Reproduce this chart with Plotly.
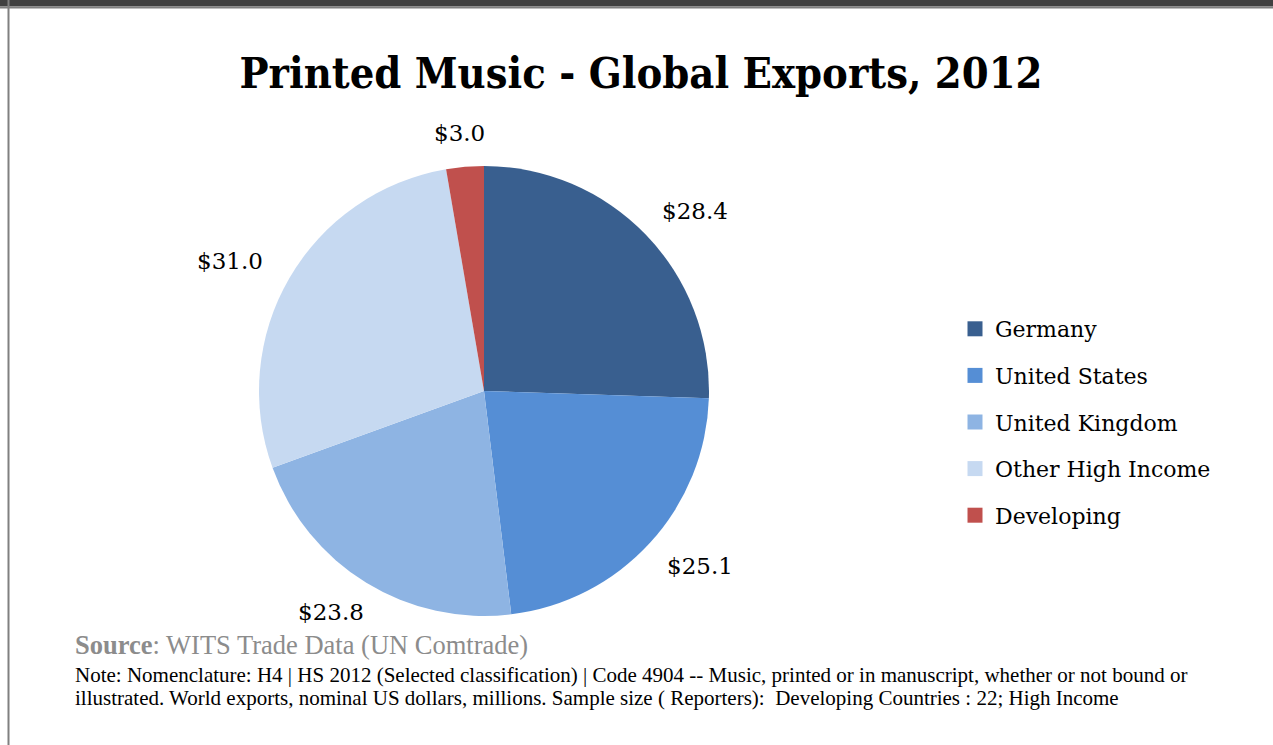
import math
import plotly.graph_objects as go

categories = ["Germany", "United States", "United Kingdom", "Other High Income", "Developing"]
values = [28.4, 25.1, 23.8, 31.0, 3.0]
colors = ["#395F8F", "#558ED5", "#8EB4E3", "#C6D9F1", "#C0504D"]
value_labels = ["$28.4", "$25.1", "$23.8", "$31.0", "$3.0"]

W, H = 1273, 745
CX, CY, R = 484, 391, 225  # pie centre / radius in px

fig = go.Figure()
fig.add_trace(go.Pie(
    labels=categories, values=values, sort=False, direction="clockwise", rotation=0,
    marker=dict(colors=colors, line=dict(color="white", width=0)),
    textinfo="none", hoverinfo="label+value", showlegend=False,
    domain=dict(x=[(CX - R) / W, (CX + R) / W], y=[1 - (CY + R) / H, 1 - (CY - R) / H]),
))

# legend via dummy traces so entries can be spaced like the original
for cat, col in zip(categories, colors):
    fig.add_trace(go.Scatter(
        x=[None], y=[None], mode="markers", name=cat, legendgroup=cat,
        marker=dict(symbol="square", size=15, color=col),
    ))

# outside-end value labels derived from the slice angles
total = sum(values)
cum = 0
annotations = []
for v, lab in zip(values, value_labels):
    mid = (cum + v / 2) / total * 2 * math.pi
    cum += v
    s, c = math.sin(mid), math.cos(mid)
    ax = CX + R * 1.09 * s + 48 * s
    ay = CY - R * 1.09 * c - 14 * c
    annotations.append(dict(
        x=ax / W, y=1 - ay / H, xref="paper", yref="paper", text=lab, showarrow=False,
        xanchor="center", yanchor="middle",
        font=dict(family="DejaVu Serif", size=23, color="black"),
    ))

annotations.append(dict(
    x=73 / W, y=1 - 645 / H, xref="paper", yref="paper", xanchor="left", yanchor="middle",
    showarrow=False, align="left",
    text="<b>Source</b>: WITS Trade Data (UN Comtrade)",
    font=dict(family="Liberation Serif", size=26.5, color="#8C8C8C"),
))
note_lines = [
    "Note: Nomenclature: H4 | HS 2012 (Selected classification) | Code 4904 -- Music, printed or in manuscript, whether or not bound or",
    "illustrated. World exports, nominal US dollars, millions. Sample size ( Reporters):  Developing Countries : 22; High Income",
]
for i, line in enumerate(note_lines):
    annotations.append(dict(
        x=73 / W, y=1 - (675 + 23 * i) / H, xref="paper", yref="paper", xanchor="left", yanchor="middle",
        showarrow=False, align="left", text=line,
        font=dict(family="Liberation Serif", size=21, color="black"),
    ))

shapes = [
    dict(type="rect", xref="paper", yref="paper", x0=0, x1=1, y0=1 - 6.5 / H, y1=1,
         fillcolor="#404040", line=dict(width=0)),
    dict(type="rect", xref="paper", yref="paper", x0=0, x1=1, y0=1 - 8.5 / H, y1=1 - 6.5 / H,
         fillcolor="#808080", line=dict(width=0)),
    dict(type="rect", xref="paper", yref="paper", x0=7.5 / W, x1=9.5 / W, y0=0, y1=1,
         fillcolor="#808080", line=dict(width=0)),
]

fig.update_layout(
    width=W, height=H,
    margin=dict(l=0, r=0, t=0, b=0),
    paper_bgcolor="white", plot_bgcolor="white",
    title=dict(text="<b>Printed Music - Global Exports, 2012</b>", x=641 / W, xanchor="center",
               y=1 - 73 / H, yref="container", yanchor="middle",
               font=dict(family="DejaVu Serif Condensed, DejaVu Serif", size=43, color="black")),
    xaxis=dict(visible=False), yaxis=dict(visible=False),
    legend=dict(x=955 / W, y=1 - 308 / H, xanchor="left", yanchor="top",
                font=dict(family="DejaVu Serif", size=22, color="black"),
                tracegroupgap=15, itemwidth=30, bgcolor="rgba(0,0,0,0)"),
    annotations=annotations,
    shapes=shapes,
)

fig.write_html("out.html", config={"displayModeBar": False},
               post_script="document.body.style.margin='0';")
